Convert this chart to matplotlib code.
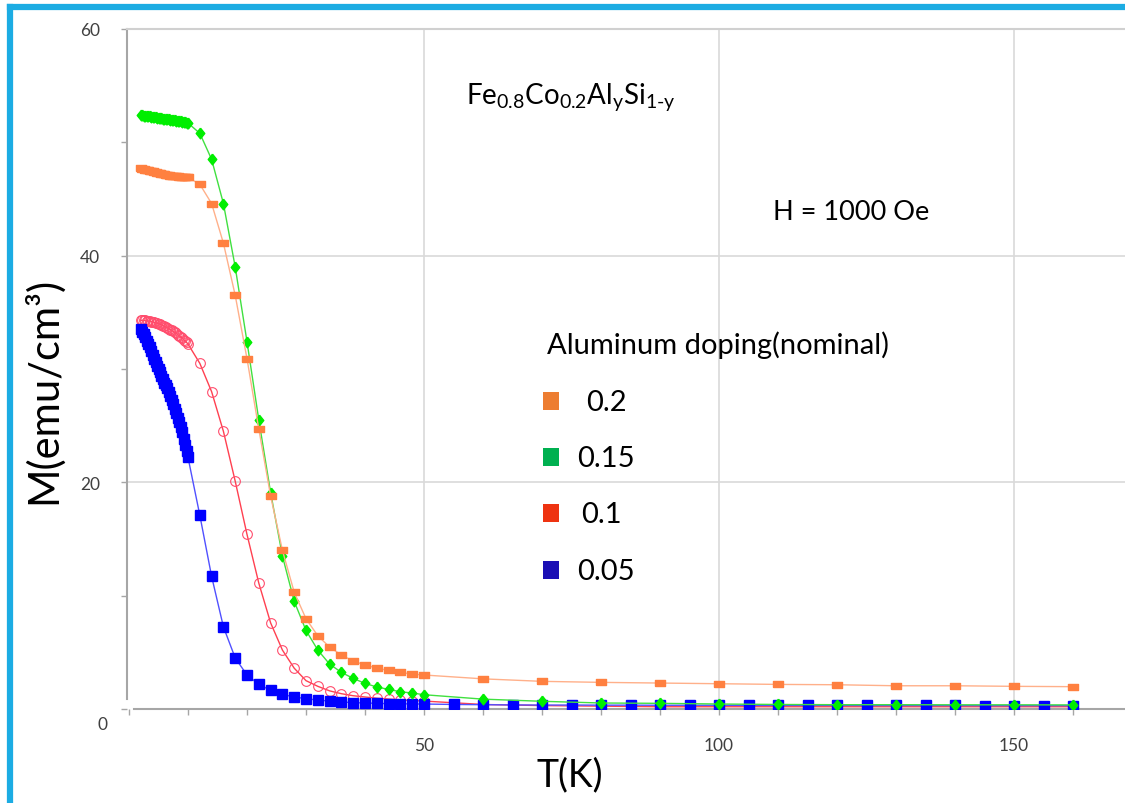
import matplotlib
matplotlib.use("Agg")
import matplotlib.pyplot as plt
from matplotlib.path import Path
from matplotlib.lines import Line2D
from matplotlib.patches import Rectangle
from matplotlib.ticker import MultipleLocator, FuncFormatter

plt.rcParams['font.family'] = ['Lato', 'DejaVu Sans']
plt.rcParams['mathtext.fontset'] = 'custom'
plt.rcParams['mathtext.rm'] = 'Lato'
plt.rcParams['mathtext.it'] = 'Lato'

# temperatures (K)
T_low = [2, 2.25, 2.5, 2.75, 3, 3.25, 3.5, 3.75, 4, 4.25, 4.5, 4.75, 5, 5.25, 5.5, 5.75,
         6, 6.25, 6.5, 6.75, 7, 7.25, 7.5, 7.75, 8, 8.25, 8.5, 8.75, 9, 9.25, 9.5, 9.75, 10]
T_mid = [12, 14, 16, 18, 20, 22, 24, 26, 28, 30, 32, 34, 36, 38, 40, 42, 44, 46, 48, 50]
T_high = [60, 70, 80, 90, 100, 110, 120, 130, 140, 150, 160]
T_high_b = [55, 60, 65, 70, 75, 80, 85, 90, 95, 100, 105, 110, 115, 120, 125, 130,
            135, 140, 145, 150, 155, 160]

# magnetisation (emu/cm^3), y = 0.2
M_02 = [47.70, 47.67, 47.63, 47.60, 47.57, 47.53, 47.50, 47.47, 47.43, 47.40, 47.37,
        47.33, 47.30, 47.27, 47.23, 47.20, 47.17, 47.14, 47.11, 47.09, 47.07, 47.05,
        47.03, 47.01, 47.00, 46.99, 46.97, 46.96, 46.95, 46.94, 46.93, 46.92, 46.90,
        46.3, 44.6, 41.1, 36.5, 30.9, 24.7, 18.8, 14.0, 10.3, 7.96, 6.46, 5.46, 4.76,
        4.23, 3.88, 3.61, 3.4, 3.23, 3.08, 3.0,
        2.66, 2.44, 2.35, 2.29, 2.23, 2.17, 2.14, 2.05, 2.05, 2.0, 1.97]
# y = 0.15
M_015 = [52.40, 52.38, 52.36, 52.34, 52.32, 52.30, 52.28, 52.26, 52.24, 52.22, 52.20,
         52.18, 52.16, 52.14, 52.12, 52.10, 52.08, 52.06, 52.04, 52.02, 52.00, 51.98,
         51.96, 51.94, 51.92, 51.90, 51.88, 51.85, 51.82, 51.79, 51.76, 51.73, 51.70,
         50.8, 48.5, 44.6, 39.0, 32.4, 25.5, 19.1, 13.5, 9.5, 6.93, 5.2, 3.96, 3.23,
         2.7, 2.26, 1.94, 1.73, 1.52, 1.41, 1.26,
         0.87, 0.68, 0.53, 0.5, 0.44, 0.4, 0.38, 0.38, 0.37, 0.37, 0.36]
# y = 0.1
M_01 = [34.30, 34.30, 34.29, 34.28, 34.26, 34.24, 34.22, 34.19, 34.16, 34.12, 34.08,
        34.04, 33.99, 33.94, 33.89, 33.83, 33.77, 33.70, 33.63, 33.56, 33.48, 33.40,
        33.32, 33.23, 33.14, 33.04, 32.94, 32.83, 32.72, 32.60, 32.48, 32.35, 32.20,
        30.5, 28.0, 24.5, 20.1, 15.4, 11.1, 7.6, 5.2, 3.6, 2.5, 2.0, 1.6, 1.35, 1.17,
        1.06, 0.95, 0.88, 0.8, 0.75, 0.7,
        0.4, 0.3, 0.25, 0.2, 0.2, 0.2, 0.2, 0.2, 0.2, 0.2, 0.2]
# y = 0.05
M_005 = [33.5, 33.3, 33.1, 32.8, 32.5, 32.2, 31.9, 31.55, 31.2, 30.9, 30.6, 30.3, 30.0,
         29.7, 29.4, 29.1, 28.8, 28.55, 28.3, 27.95, 27.6, 27.25, 26.9, 26.5, 26.1,
         25.7, 25.3, 24.85, 24.4, 23.85, 23.3, 22.75, 22.2,
         17.1, 11.7, 7.25, 4.5, 3.0, 2.17, 1.65, 1.29, 1.06, 0.91, 0.79, 0.7, 0.62,
         0.56, 0.53, 0.5, 0.47, 0.47, 0.44, 0.44,
         0.4, 0.38, 0.36, 0.35, 0.35, 0.34, 0.34, 0.33, 0.33, 0.33, 0.32, 0.32, 0.32,
         0.32, 0.31, 0.31, 0.31, 0.31, 0.3, 0.3, 0.3, 0.3]

legend_labels = ['0.2', '0.15', '0.1', '0.05']
legend_colors = ['#ED7D31', '#00B050', '#EE3311', '#1B0FB5']

W, H = 1125, 804


def px(x, y):
    return x / W, 1 - y / H


fig = plt.figure(figsize=(W / 100, H / 100), dpi=100)
ax = fig.add_axes([127 / W, 1 - 710 / H, 1 - 127 / W, 680 / H])

rect = Path([(-1, -0.63), (1, -0.63), (1, 0.63), (-1, 0.63), (-1, -0.63)])
diamond = Path([(0, 1), (0.8, 0), (0, -1), (-0.8, 0), (0, 1)])

T_all = T_low + T_mid + T_high
ax.plot(T_all, M_01, color='#FF4050', lw=1, marker='o', ms=7, mfc='none',
        mec='#FF4D6D', mew=0.8, zorder=3)
ax.plot(T_low + T_mid + T_high_b, M_005, color='#5050FF', lw=1, marker='s', ms=6.8,
        mfc='#0000FF', mec='#0000FF', zorder=4)
ax.plot(T_all, M_015, color='#40E040', lw=1, marker=diamond, ms=7.7,
        mfc='#00EE00', mec='#00EE00', zorder=5)
ax.plot(T_all, M_02, color='#FFB08A', lw=1, marker=rect, ms=6.8,
        mfc='#FF8040', mec='#FF8040', zorder=6)

ax.set_xlim(-0.34, 168.8)
ax.set_ylim(0, 60)

for g in [50, 100, 150]:
    ax.axvline(g, color='#d9d9d9', lw=1.2, zorder=1)
for g in [20, 40]:
    ax.axhline(g, color='#d9d9d9', lw=1.2, zorder=1)

ax.spines['right'].set_visible(False)
ax.spines['top'].set_color('#d0d0d0')
ax.spines['top'].set_linewidth(1.5)
for s in ['left', 'bottom']:
    ax.spines[s].set_color('#a6a6a6')
    ax.spines[s].set_linewidth(1.5)
ax.spines['left'].set_bounds(0.9, 60)
ax.spines['bottom'].set_bounds(0.85, 168.8)

ax.xaxis.set_major_locator(MultipleLocator(10))
ax.yaxis.set_major_locator(MultipleLocator(10))
ax.xaxis.set_major_formatter(FuncFormatter(lambda v, p: f'{v:.0f}' if round(v) in (50, 100, 150) else ''))
ax.yaxis.set_major_formatter(FuncFormatter(lambda v, p: f'{v:.0f}' if round(v) in (20, 40, 60) else ''))
ax.tick_params(axis='both', direction='out', length=4.5, width=1, color='#a6a6a6',
               labelsize=12.5, labelcolor='#404040')
ax.tick_params(axis='y', pad=15)
ax.tick_params(axis='x', pad=16)

# the zero label sits a little below the axis
fig.text(*px(102, 725), '0', ha='center', va='center', fontsize=12.5, color='#404040')

fig.text(*px(43, 390), 'M(emu/cm³)', rotation=90, ha='center', va='center', fontsize=30)
fig.text(*px(570, 775), 'T(K)', ha='center', va='center', fontsize=27)

fig.text(*px(466, 97), r'Fe$_{0.8}$Co$_{0.2}$Al$_{y}$Si$_{1\text{-}y}$', ha='left',
         va='center', fontsize=20)
fig.text(*px(851, 213), 'H = 1000 Oe', ha='center', va='center', fontsize=19.5)

fig.text(*px(547, 345), 'Aluminum doping(nominal)', ha='left', va='center', fontsize=21)
sq_y = [402, 458, 514, 571]
lab_x = [586, 577, 581, 577]
for lab, col, y, lx in zip(legend_labels, legend_colors, sq_y, lab_x):
    x0, y0 = px(551 - 8, y + 9)
    fig.add_artist(Rectangle((x0, y0), 16 / W, 18 / H, transform=fig.transFigure,
                             facecolor=col, edgecolor='none'))
    fig.text(*px(lx, y + 1), lab, ha='left', va='center', fontsize=21)

# blue frame (top and left edges visible)
fig.add_artist(Line2D([9.5 / W, 1.0], [1 - 8 / H, 1 - 8 / H], transform=fig.transFigure,
                      color='#1CACE3', lw=4.5, solid_capstyle='projecting'))
fig.add_artist(Line2D([9.5 / W, 9.5 / W], [1 - 8 / H, 0], transform=fig.transFigure,
                      color='#1CACE3', lw=4.5, solid_capstyle='projecting'))

fig.savefig('out.png', dpi=100)
